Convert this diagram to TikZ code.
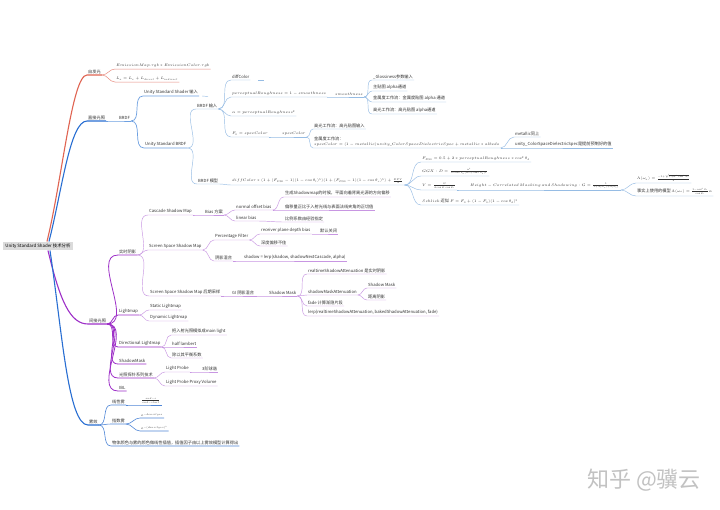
\RequirePackage{fix-cm}
\documentclass[tikz,border=0pt]{standalone}
\usepackage[no-math]{fontspec}
\setmainfont{Noto Sans CJK SC}
\definecolor{cR}{RGB}{224,100,82}
\definecolor{cRl}{RGB}{232,140,128}
\definecolor{cB}{RGB}{40,110,210}
\definecolor{cBm}{RGB}{110,160,225}
\definecolor{cBl}{RGB}{150,188,228}
\definecolor{cP}{RGB}{158,48,200}
\definecolor{cPl}{RGB}{200,150,226}
\definecolor{cFl}{RGB}{80,135,215}
\definecolor{txt}{RGB}{50,50,50}
\tikzset{
 tx/.style={anchor=south west, inner xsep=1pt, inner ysep=1.2pt, font=\fontsize{4.2}{5.2}\selectfont, text=txt, align=left},
 rootbox/.style={fill=black!14, inner xsep=2pt, inner ysep=2pt, font=\fontsize{4.4}{5.2}\selectfont, text=black},
 rT/.style={draw=cR, line width=1.1pt},
 rL/.style={draw=cRl, line width=0.5pt},
 bT/.style={draw=cB, line width=1.1pt},
 bM/.style={draw=cBm, line width=0.7pt},
 bL/.style={draw=cBl, line width=0.45pt},
 pT/.style={draw=cP, line width=1.1pt},
 pM/.style={draw=cP, line width=0.8pt},
 pL/.style={draw=cPl, line width=0.45pt},
 fL/.style={draw=cFl, line width=0.6pt},
}
\newcommand\mth[1]{{\fontsize{3.65}{4.4}\selectfont$#1$}}
\newcommand\mmn[6]{\node[tx] (#1) at (#3,#4) {#6};
 \draw[#5] (#2.south east) to[out=0,in=180] (#1.south west) -- (#1.south east);}
\begin{document}
\begin{tikzpicture}[x=1pt,y=-1pt]
\fill[white] (0,0) rectangle (720,509);
\useasboundingbox (0,0) rectangle (720,509);

\node[rootbox] (r) at (38,246) {Unity Standard Shader 技术分析};

% ---------- main branches ----------
\node[tx] (A) at (87,75) {自发光};
\draw[rT] ([xshift=9pt]r.north) .. controls +(15,-61) and +(-15,0) .. (A.south west) -- (A.south east);
\node[tx] (B) at (87,121) {直接光照};
\draw[bT] ([xshift=11pt]r.north) .. controls +(13,-51) and +(-17,0) .. (B.south west) -- (B.south east);
\node[tx] (C) at (88,324) {间接光照};
\draw[pT] ([xshift=10pt]r.south) .. controls +(12,50) and +(-18,0) .. (C.south west) -- (C.south east);
\node[tx] (D) at (88,425) {雾效};
\draw[bT] ([xshift=12pt]r.south) .. controls +(12,80) and +(-20,0) .. (D.south west) -- (D.south east);

% ---------- 自发光 ----------
\mmn{A1}{A}{115}{69}{rL}{\mth{EmissionMap.rgb * EmissionColor.rgb}}
\mmn{A2}{A}{115}{82}{rL}{\mth{L_o = L_e + L_{direct} + L_{indirect}}}

% ---------- 直接光照 ----------
\mmn{B1}{B}{118}{121}{bM}{BRDF}
\mmn{B11}{B1}{143}{96}{bM}{Unity Standard Shader 输入}
\draw[bL] ([xshift=3pt]B11.south east) -- ++(6,0.5);
\mmn{B12}{B1}{144}{148}{bM}{Unity Standard BRDF}
\mmn{B121}{B12}{196}{109}{bL}{BRDF 输入}
\mmn{c1}{B121}{231}{80}{bL}{diffColor}
\draw[bL] ([xshift=8pt]c1.south east) -- ++(6,0);
\mmn{c2}{B121}{231}{97}{bL}{\mth{perceptualRoughness = 1 - smoothness}}
\mmn{c21}{c2}{334}{97}{bL}{\mth{smoothness}}
\mmn{c211}{c21}{372}{80}{bL}{\_Glossiness参数输入}
\mmn{c212}{c21}{372}{91}{bL}{主贴图 alpha通道}
\mmn{c213}{c21}{372}{102}{bL}{金属度工作流：金属度贴图 alpha 通道}
\mmn{c214}{c21}{372}{114}{bL}{高光工作流：高光贴图 alpha通道}
\mmn{c3}{B121}{231}{116}{bL}{\mth{\alpha = perceptualRoughness^2}}
\mmn{c4}{B121}{231}{137}{bL}{\mth{F_0 = specColor}}
\mmn{c41}{c4}{281}{137}{bL}{\mth{specColor}}
\mmn{c411}{c41}{313}{129}{bL}{高光工作流：高光贴图输入}
\mmn{c412}{c41}{313}{148}{bL}{金属度工作流：\\ \mth{specColor = (1-metallic)unity\_ColorSpaceDielectricSpec + metallic*albedo}}
\mmn{c4121}{c412}{514}{137}{bL}{metallic同上}
\mmn{c4122}{c412}{514}{148}{bL}{unity\_ColorSpaceDielectricSpec是提前预制好的值}
\mmn{B122}{B12}{197}{184}{bL}{BRDF 模型}
\mmn{d1}{B122}{231}{185}{bL}{\mth{diffColor*(1+(F_{D90}-1)(1-\cos\theta_l)^5)(1+(F_{D90}-1)(1-\cos\theta_v)^5)+\frac{DFV}{4}}}
\mmn{d11}{d1}{421}{162}{bL}{\mth{F_{D90} = 0.5 + 2*perceptualRoughness*\cos^2\theta_d}}
\mmn{d12}{d1}{421}{176}{bL}{\mth{GGX: D = \frac{\alpha^2}{\pi\cos^4\theta_h(\alpha^2+\tan^2\theta_h)^2}}}
\mmn{d13}{d1}{421}{190}{bL}{\mth{V = \frac{G}{4\cos\theta_l\cos\theta_v}}}
\mmn{d131}{d13}{469}{190}{bL}{\mth{Height-Correlated\ Masking\ and\ Shadowing: G = \frac{1}{1+\Lambda(\omega_o)+\Lambda(\omega_i)}}}
\mmn{d1311}{d131}{636}{183}{bL}{\mth{\Lambda(\omega_o) = \frac{-1+\sqrt{1+\alpha^2\tan^2\theta_o}}{2}}}
\mmn{d1312}{d131}{636}{196}{bL}{事实上使用的模型 \mth{\Lambda(\omega_o) = \frac{1-\cos^2\theta_o}{\cos\theta_o}\alpha}}
\mmn{d14}{d1}{421}{205}{bL}{\mth{Schlick} 近似 \mth{F = F_0 + (1-F_0)(1-\cos\theta_d)^5}}

% ---------- 间接光照 ----------
\mmn{C1}{C}{118}{255}{pM}{实时阴影}
\mmn{C11}{C1}{148}{215}{pL}{Cascade Shadow Map}
\mmn{C111}{C11}{204}{215}{pL}{Bias 方案}
\mmn{C1111}{C111}{235}{210}{pL}{normal offset bias}
\mmn{e1}{C1111}{284}{197}{pL}{生成Shadowmap的时候，平面向着背离光源的方向偏移}
\mmn{e2}{C1111}{284}{210}{pL}{偏移量正比于入射光线与表面法线夹角的正切值}
\mmn{C1112}{C111}{235}{221}{pL}{linear bias}
\mmn{e3}{C1112}{284}{222}{pL}{比例系数由经验指定}
\mmn{C12}{C1}{148}{250}{pL}{Screen Space Shadow Map}
\mmn{C121}{C12}{214}{240}{pL}{Percentage Filter}
\mmn{f1}{C121}{260}{234}{pL}{receiver plane depth bias}
\mmn{f11}{f1}{319}{234}{pL}{默认关闭}
\mmn{f2}{C121}{260}{246}{pL}{深度偏移不佳}
\mmn{C122}{C12}{214}{261}{pL}{阴影混合}
\mmn{f3}{C122}{243}{261}{pL}{shadow = lerp(shadow, shadowNextCascade, alpha)}
\mmn{C13}{C1}{149}{296}{pL}{Screen Space Shadow Map 后期采样}
\mmn{g}{C13}{231}{296}{pL}{GI 阴影混合}
\mmn{g1}{g}{268}{296}{pL}{Shadow Mask}
\mmn{g11}{g1}{307}{274}{pL}{realtimeShadowAttenuation 是实时阴影}
\mmn{g12}{g1}{307}{295}{pL}{shadowMaskAttenuation}
\mmn{g121}{g12}{367}{288}{pL}{Shadow Mask}
\mmn{g122}{g12}{367}{300}{pL}{距离阴影}
\mmn{g13}{g1}{307}{306}{pL}{fade 计算渐隐片段}
\mmn{g14}{g1}{307}{316}{pL}{lerp(realtimeShadowAttenuation, bakedShadowAttenuation, fade)}
\mmn{C2}{C}{118}{315}{pM}{Lightmap}
\mmn{C21}{C2}{149}{310}{pL}{Static Lightmap}
\mmn{C22}{C2}{149}{321}{pL}{Dynamic Lightmap}
\mmn{C3}{C}{118}{347}{pM}{Directional Lightmap}
\mmn{h1}{C3}{171}{335}{pL}{把入射光照模拟成main light}
\mmn{h2}{C3}{171}{347}{pL}{half lambert}
\mmn{h3}{C3}{171}{358}{pL}{除以其平衡系数}
\mmn{C4}{C}{118}{364}{pM}{ShadowMask}
\mmn{C5}{C}{118}{378}{pM}{光照探针系列技术}
\mmn{i1}{C5}{165}{372}{pL}{Light Probe}
\mmn{i11}{i1}{201}{372}{pL}{3阶球谐}
\mmn{i2}{C5}{165}{386}{pL}{Light Probe Proxy Volume}
\mmn{C6}{C}{118}{391}{pM}{IBL}

% ---------- 雾效 ----------
\mmn{D1}{D}{111}{405}{fL}{线性雾}
\mmn{D11}{D1}{140}{405}{fL}{\mth{\frac{end-z}{end-start}}}
\mmn{D2}{D}{111}{424}{fL}{指数雾}
\mmn{D21}{D2}{140}{418}{fL}{\mth{e^{-density*z}}}
\mmn{D22}{D2}{140}{431}{fL}{\mth{e^{-(density*z)^2}}}
\mmn{D3}{D}{111}{446}{fL}{物体颜色与雾的颜色做线性插值，插值因子由以上雾效模型计算得出}

% watermark
\node[text=black!24, font=\fontsize{22}{24}\selectfont] (wm) at (644,480) {知乎 @骥云};
\end{tikzpicture}
\end{document}
